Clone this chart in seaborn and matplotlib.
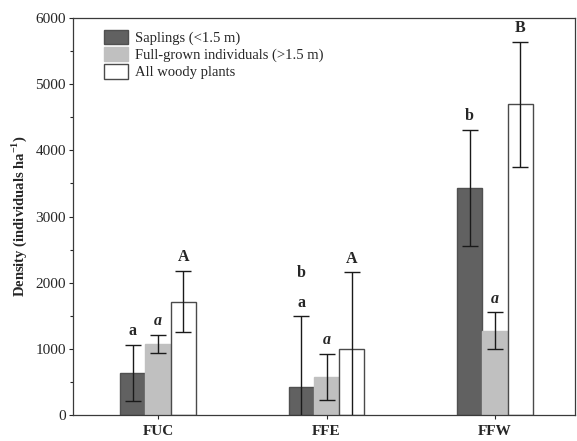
import numpy as np
import pandas as pd
import matplotlib
matplotlib.use('Agg')
import matplotlib.pyplot as plt
import seaborn as sns

# ---- data
sites = ['FUC', 'FFE', 'FFW']
groups = ['Saplings (<1.5 m)', 'Full-grown individuals (>1.5 m)', 'All woody plants']
saplings = [640, 425, 3430]
fullgrown = [1075, 575, 1270]
allwoody = [1715, 990, 4695]
saplings_err = [425, 1065, 880]
fullgrown_err = [135, 345, 280]
allwoody_err = [460, 1165, 950]
# significance letters (lower one, upper one)
saplings_lab = [['a'], ['a', 'b'], ['b']]
fullgrown_lab = [['a'], ['a'], ['a']]
allwoody_lab = [['A'], ['A'], ['B']]

colors = ['#616161', '#c0c0c0', '#ffffff']
edges = ['#505050', '#c0c0c0', '#4a4a4a']

df = pd.DataFrame({
    'site': sites * 3,
    'group': [g for g in groups for _ in sites],
    'density': saplings + fullgrown + allwoody,
})

sns.set_style('ticks')
plt.rcParams['font.family'] = ['Liberation Serif', 'DejaVu Serif']
plt.rcParams['mathtext.fontset'] = 'custom'
plt.rcParams['mathtext.rm'] = 'Liberation Serif'
plt.rcParams['mathtext.bf'] = 'Liberation Serif:bold'

fig = plt.figure(figsize=(5.77, 4.41), dpi=100)
ax = fig.add_axes([0.1265, 0.059, 0.87, 0.9])

sns.barplot(data=df, x='site', y='density', hue='group', order=sites,
            hue_order=groups, palette=colors, width=0.45, errorbar=None,
            saturation=1, ax=ax)

bar_conts = list(ax.containers)
for cont, ec in zip(bar_conts, edges):
    for p in cont:
        p.set_edgecolor(ec)
        p.set_linewidth(1.0)

vals = [saplings, fullgrown, allwoody]
errs = [saplings_err, fullgrown_err, allwoody_err]
labs = [saplings_lab, fullgrown_lab, allwoody_lab]
italic = [False, True, False]
for j, cont in enumerate(bar_conts):
    xs = [p.get_x() + p.get_width() / 2 for p in cont]
    ax.errorbar(xs, vals[j], yerr=errs[j], fmt='none', ecolor='#1a1a1a',
                elinewidth=1.0, capsize=6, capthick=1.0, zorder=5)
    for x, v, e, ll in zip(xs, vals[j], errs[j], labs[j]):
        for k, t in enumerate(ll):
            ax.annotate(t, (x, v + e), xytext=(0, 10 + 21 * k),
                        textcoords='offset points', ha='center', va='center',
                        fontsize=11.5, fontweight='bold',
                        style='italic' if italic[j] else 'normal')

ax.set_xlim(-0.505, 2.475)
ax.set_ylim(0, 6000)
ax.set_yticks(np.arange(0, 6001, 1000))
ax.set_yticks(np.arange(500, 6000, 1000), minor=True)
ax.tick_params(axis='y', which='major', length=3, width=0.8, labelsize=11, pad=2)
ax.tick_params(axis='y', which='minor', length=2, width=0.8)
ax.tick_params(axis='x', length=3, width=0.8, labelsize=11, pad=4.5)
for lab in ax.get_xticklabels():
    lab.set_fontweight('bold')
ax.set_xlabel('')
ax.set_ylabel(r'Density (individuals ha$^{\mathbf{-1}}$)', fontsize=10.5,
              fontweight='bold', labelpad=5)
for s in ax.spines.values():
    s.set_color('#3a3a3a')
    s.set_linewidth(0.9)

leg = ax.legend(loc='upper left', bbox_to_anchor=(0.05, 0.985), frameon=False,
                fontsize=10.5, handlelength=1.65, handleheight=1.15,
                labelspacing=0.12, handletextpad=0.45, borderaxespad=0)
for h, ec in zip(leg.legend_handles, edges):
    h.set_edgecolor(ec)
    h.set_linewidth(1.0)

fig.savefig('out.png', dpi=100)
